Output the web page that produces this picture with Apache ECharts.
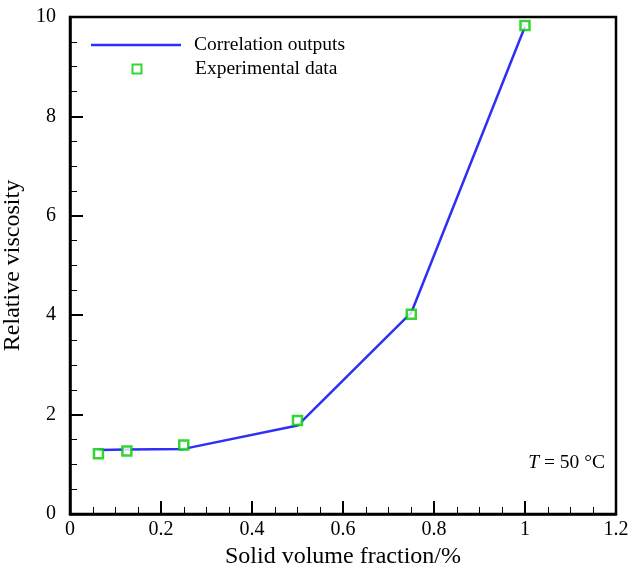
<!DOCTYPE html>
<html>
<head>
<meta charset="utf-8">
<script src="https://cdn.jsdelivr.net/npm/echarts@6/dist/echarts.min.js"></script>
<style>
  html, body { margin: 0; padding: 0; background: #fff; }
  #main { width: 628px; height: 573px; }
</style>
</head>
<body>
<div id="main"></div>
<script>
// volume fraction (%) and relative viscosity
var fraction = [0.0625, 0.125, 0.25, 0.5, 0.75, 1.0];
var correlation = [1.29, 1.30, 1.31, 1.78, 4.05, 9.81];
var experimental = [1.21, 1.27, 1.39, 1.88, 4.02, 9.83];

var serif = 'Liberation Serif';
var myChart = echarts.init(document.getElementById('main'));

function pairs(ys) {
    return fraction.map(function (x, i) { return [x, ys[i]]; });
}

var legendText = { fontFamily: serif, fontSize: 19.5, color: '#000', padding: [0, 0, 0, 8] };

var option = {
    backgroundColor: '#fff',
    animation: false,
    grid: {
        left: 70, right: 12, top: 17, bottom: 59,
        outerBoundsMode: 'none',
        show: true, borderColor: '#000', borderWidth: 2.5
    },
    legend: [{
        left: 86, top: 30,
        itemWidth: 90, itemHeight: 2.5,
        icon: 'rect',
        textStyle: legendText,
        data: ['Correlation outputs']
    }, {
        left: 86, top: 54,
        itemWidth: 90, itemHeight: 10,
        // small square centred in a 90px wide box
        icon: 'path://M0,0M90,10M40.5,0.5H49.5V9.5H40.5Z',
        symbolKeepAspect: false,
        textStyle: legendText,
        data: ['Experimental data']
    }],
    xAxis: {
        type: 'value',
        min: 0, max: 1.2, interval: 0.2,
        name: 'Solid volume fraction/%',
        nameLocation: 'middle', nameGap: 25,
        nameTextStyle: { fontFamily: serif, fontSize: 24, color: '#000' },
        axisLine: { lineStyle: { color: '#000', width: 2.5 } },
        axisTick: { inside: true, length: 13, lineStyle: { color: '#000', width: 2 } },
        minorTick: { show: true, splitNumber: 4, length: 7, lineStyle: { color: '#000', width: 1 } },
        axisLabel: {
            fontFamily: serif, fontSize: 20, color: '#000', margin: 6,
            formatter: function (v) { return String(+v.toFixed(1)); }
        },
        splitLine: { show: false }
    },
    yAxis: {
        type: 'value',
        min: 0, max: 10, interval: 2,
        name: 'Relative viscosity',
        nameLocation: 'middle', nameGap: 38,
        nameTextStyle: { fontFamily: serif, fontSize: 24, color: '#000' },
        axisLine: { show: true, lineStyle: { color: '#000', width: 2.5 } },
        axisTick: { show: true, inside: true, length: 13, lineStyle: { color: '#000', width: 2 } },
        minorTick: { show: true, splitNumber: 4, length: 7, lineStyle: { color: '#000', width: 1 } },
        axisLabel: { fontFamily: serif, fontSize: 20, color: '#000', margin: 14 },
        splitLine: { show: false }
    },
    graphic: [{
        type: 'text',
        right: 23, top: 453,
        style: {
            text: '{i|T} = 50 °C',
            font: '19.5px "Liberation Serif"',
            fill: '#000',
            rich: { i: { fontFamily: serif, fontSize: 19.5, fontStyle: 'italic', fill: '#000' } }
        }
    }],
    series: [{
        name: 'Correlation outputs',
        type: 'line',
        data: pairs(correlation),
        showSymbol: false,
        symbol: 'none',
        lineStyle: { color: '#2f2ff5', width: 2.5 },
        itemStyle: { color: '#2f2ff5' },
        z: 2
    }, {
        name: 'Experimental data',
        type: 'scatter',
        data: pairs(experimental),
        symbol: 'rect',
        symbolSize: 9,
        itemStyle: { color: '#fff', borderColor: '#00cc00', borderWidth: 2.5 },
        z: 3
    }]
};

myChart.setOption(option);
</script>
</body>
</html>
